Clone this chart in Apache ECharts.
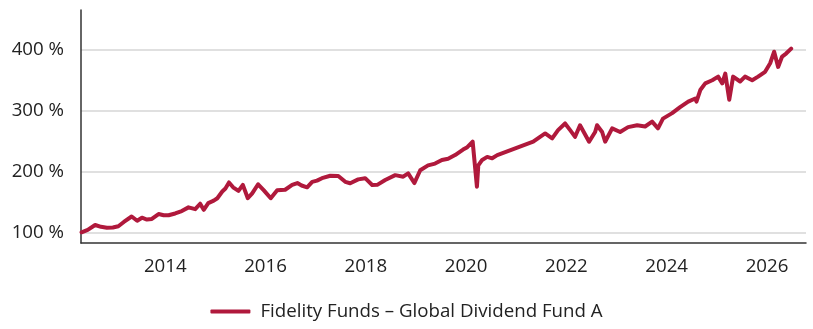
<!DOCTYPE html>
<html>
<head>
<meta charset="utf-8">
<script src="https://cdn.jsdelivr.net/npm/echarts@6/dist/echarts.min.js"></script>
<style>
  html, body { margin: 0; padding: 0; background: #fff; }
  #chart { width: 813px; height: 329px; }
</style>
</head>
<body>
<div id="chart"></div>
<script>
// Fund performance, cumulative (%), sampled observations
const seriesName = 'Fidelity Funds – Global Dividend Fund A';
const dates = [
  '2012-05-01','2012-06-15','2012-08-08','2012-09-20','2012-11-01','2012-12-15',
  '2013-01-24','2013-03-05','2013-05-01','2013-06-10','2013-07-15','2013-08-20','2013-09-25','2013-11-13','2013-12-20',
  '2014-01-25','2014-03-14','2014-05-01','2014-06-19','2014-08-07','2014-09-12','2014-10-08','2014-11-10','2014-12-20',
  '2015-01-15','2015-02-20','2015-03-15','2015-04-10','2015-05-10','2015-06-18','2015-07-20','2015-08-25','2015-09-26','2015-11-08','2015-12-20',
  '2016-02-08','2016-03-26','2016-05-23','2016-07-13','2016-08-20','2016-09-20','2016-10-30','2016-12-06',
  '2017-01-10','2017-02-15','2017-04-17','2017-06-14','2017-08-04','2017-09-09','2017-11-06','2017-12-27',
  '2018-02-16','2018-03-25','2018-05-22','2018-08-03','2018-09-30','2018-11-05','2018-12-20',
  '2019-02-01','2019-03-30','2019-05-20','2019-07-09','2019-08-23','2019-10-13','2019-12-10',
  '2020-01-10','2020-02-18','2020-03-20','2020-03-30','2020-04-27','2020-06-03','2020-07-09','2020-08-15',
  '2021-05-04','2021-06-23','2021-07-30','2021-09-19','2021-11-01','2021-12-22',
  '2022-01-28','2022-03-05','2022-04-10','2022-06-15','2022-07-29','2022-08-12','2022-09-18','2022-10-10','2022-11-30',
  '2023-01-27','2023-03-26','2023-05-31','2023-07-28','2023-09-17','2023-10-30','2023-12-05',
  '2024-02-10','2024-04-08','2024-06-06','2024-07-27','2024-08-05','2024-09-02','2024-10-08','2024-11-28',
  '2025-01-10','2025-02-09','2025-03-03','2025-04-01','2025-04-29','2025-06-19','2025-07-25','2025-09-15','2025-10-28','2025-12-18',
  '2026-01-24','2026-02-22','2026-03-23','2026-04-21','2026-05-20','2026-06-26'
];
const values = [
  100, 104, 112, 109, 107.6, 108,
  110, 117, 126, 119, 124, 121, 122, 130, 128,
  128, 131, 135, 141, 138, 147, 137, 148, 152,
  156, 167, 172, 182, 174, 168, 178, 156, 164, 179, 169,
  156, 169, 170, 178, 181, 177, 174, 183,
  185, 189, 193, 192.6, 183, 180.6, 187, 189,
  177.8, 178, 186, 194, 191.5, 197, 181,
  202, 210, 213, 219, 221, 227, 236,
  240, 249, 175, 210, 219, 224, 221.7, 227,
  249, 257, 262.6, 254.4, 268, 279,
  268, 257, 276, 249, 265, 276, 265, 249, 271,
  265, 273, 276, 274, 282, 271, 287,
  296, 306, 315, 320, 315, 334, 345, 350,
  356, 345, 361, 318, 356, 348, 356, 350, 356, 364,
  378, 397, 372, 389, 394, 402
];
const yTicks = [100, 200, 300, 400];
const xTickYears = [2014, 2016, 2018, 2020, 2022, 2024, 2026];

// Dates are plotted as UTC timestamps on a numeric axis
const ts = s => Date.parse(s + 'T00:00:00Z');
const xTicks = xTickYears.map(y => Date.UTC(y, 0, 1));
const lineData = dates.map((d, i) => [ts(d), values[i]]);

const chart = echarts.init(document.getElementById('chart'), null, { renderer: 'canvas' });
const font = "'Open Sans', 'Noto Sans', sans-serif";
const fs = 18.7;

chart.setOption({
  animation: false,
  backgroundColor: '#ffffff',
  textStyle: { fontFamily: font },
  grid: { left: 81, right: 7, top: 10, bottom: 86, containLabel: false },
  xAxis: {
    type: 'value',
    min: ts('2012-04-27'),
    max: ts('2026-10-12'),
    axisLine: { show: true, lineStyle: { color: '#333333', width: 1.5 } },
    axisTick: { show: false, customValues: xTicks },
    splitLine: { show: false },
    axisLabel: {
      customValues: xTicks,
      formatter: v => String(new Date(v).getUTCFullYear()),
      color: '#222222',
      fontSize: fs,
      fontFamily: font,
      margin: 14
    }
  },
  yAxis: {
    type: 'value',
    min: 82.4,
    max: 465.6,
    axisLine: { show: true, lineStyle: { color: '#333333', width: 1.5 } },
    axisTick: { show: false, customValues: yTicks },
    splitLine: { show: true, lineStyle: { color: '#d6d6d6', width: 1.5 } },
    axisLabel: {
      customValues: yTicks,
      formatter: v => v + ' %',
      color: '#222222',
      fontSize: fs,
      fontFamily: font,
      margin: 17
    }
  },
  legend: {
    bottom: 3,
    left: 'center',
    icon: 'roundRect',
    itemWidth: 40,
    itemHeight: 4,
    selectedMode: false,
    textStyle: { color: '#222222', fontSize: fs, fontFamily: font, padding: [0, 0, 0, 5] },
    data: [seriesName]
  },
  series: [{
    name: seriesName,
    type: 'line',
    data: lineData,
    showSymbol: false,
    symbol: 'none',
    color: '#b0193c',
    lineStyle: { color: '#b0193c', width: 4, join: 'round', cap: 'round' },
    emphasis: { disabled: true }
  }]
});
</script>
</body>
</html>
